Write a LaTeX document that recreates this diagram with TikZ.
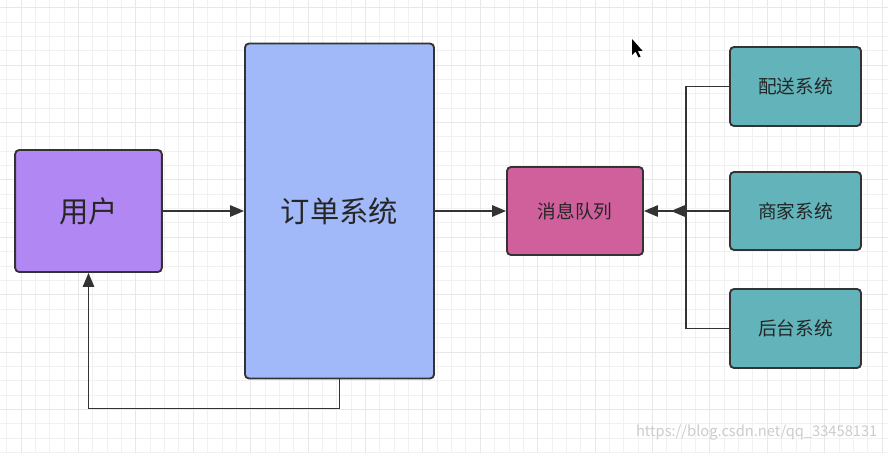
\documentclass[tikz,border=0pt]{standalone}
\usepackage{fontspec}
\setmainfont{Noto Sans CJK SC}
\usetikzlibrary{arrows.meta}
\definecolor{userpurple}{HTML}{B187F4}
\definecolor{orderblue}{HTML}{A1B9F8}
\definecolor{mqpink}{HTML}{D0609B}
\definecolor{systeal}{HTML}{62B4BA}
\definecolor{edgegray}{HTML}{333333}
\definecolor{gridminor}{HTML}{F1F1F1}
\definecolor{gridmajor}{HTML}{E8E8E8}
\tikzset{
  box/.style={draw=edgegray, line width=1.4pt, rounded corners=3pt, inner sep=0pt,
    text=black!85, font=\fontsize{22}{26}\selectfont},
  smallbox/.style={box, font=\fontsize{14}{17}\selectfont},
  wire/.style={draw=edgegray, line width=1.4pt},
  link/.style={wire, -{Triangle[length=10.5pt,width=8.5pt]}},
}
\begin{document}
\begin{tikzpicture}[x=0.75pt, y=-0.75pt]
    \useasboundingbox (0,0) rectangle (888,453);
    \fill[white] (0,0) rectangle (888,453);
    % Grid
    \foreach \i in {0,...,61} {
        \draw[gridminor, line width=0.6pt] (6.65+\i*14.35,0) -- (6.65+\i*14.35,453);
    }
    \foreach \i in {0,...,31} {
        \draw[gridminor, line width=0.6pt] (0,7.6+\i*14.35) -- (888,7.6+\i*14.35);
    }
    \foreach \i in {0,...,15} {
        \draw[gridmajor, line width=0.7pt] (21+\i*57.4,0) -- (21+\i*57.4,453);
    }
    \foreach \i in {0,...,7} {
        \draw[gridmajor, line width=0.7pt] (0,7.6+\i*57.4) -- (888,7.6+\i*57.4);
    }
    % Boxes
    \node[box, fill=userpurple, minimum width=110pt, minimum height=91.5pt] (user) at (88.5,211) {用户};
    \node[box, fill=orderblue, minimum width=141.75pt, minimum height=251.25pt] (order) at (339.5,211) {订单系统};
    \node[smallbox, fill=mqpink, minimum width=102pt, minimum height=66pt] (mq) at (575,211) {消息队列};
    \node[smallbox, fill=systeal, minimum width=98.25pt, minimum height=59.25pt] (delivery) at (795.5,86.5) {配送系统};
    \node[smallbox, fill=systeal, minimum width=98.25pt, minimum height=58.5pt] (shop) at (795.5,211) {商家系统};
    \node[smallbox, fill=systeal, minimum width=98.25pt, minimum height=59.25pt] (admin) at (795.5,328.5) {后台系统};
    % Connectors
    \draw[link] (user) -- (order);
    \draw[link] (order) -- (mq);
    \draw[link] (shop) -- (mq);
    \coordinate (bus) at (686,211);
    \coordinate (busend) at (671,211);
    \draw[wire] (delivery.west) -| (bus);
    \draw[wire] (admin.west) -| (bus);
    \draw[link] (bus) -- (busend);
    \draw[link] (order.south) -- ++(0,29) -| (user.south);
    % Cursor
    \fill[black] (632,39) -- (632,55) -- (635.5,51.5) -- (638.5,57.5) -- (640.5,56.5) -- (637.8,50.8) -- (642.5,50.8) -- cycle;
    % Watermark
    \node[text=gray!40, font=\fontsize{11}{13}\selectfont, anchor=east] (mark) at (882,432) {https://blog.csdn.net/qq\_33458131};
\end{tikzpicture}
\end{document}
